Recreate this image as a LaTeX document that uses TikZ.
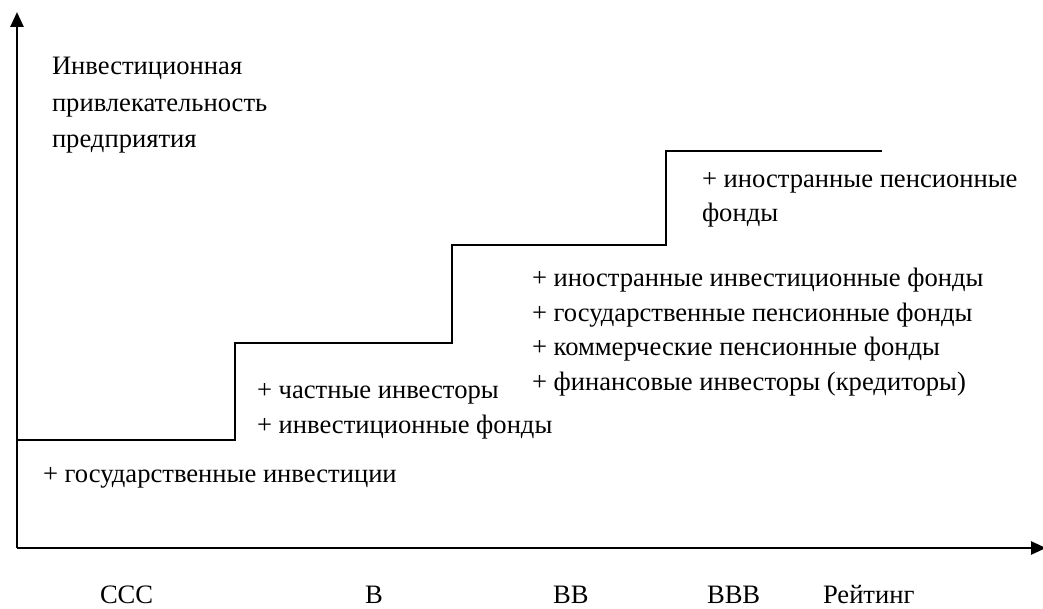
\documentclass[tikz,border=0pt]{standalone}
\usepackage{fontspec}
\setmainfont{Liberation Serif}
\usetikzlibrary{arrows.meta}
\tikzset{
  lbl/.style={anchor=base west, inner sep=0pt, outer sep=0pt, font=\fontsize{26.6}{32}\selectfont},
  axis/.style={line width=2.6pt, -{Triangle[width=13pt,length=15pt]}},
  stepline/.style={line width=2pt}
}
\begin{document}
\begin{tikzpicture}[x=1pt,y=-1pt]
\useasboundingbox (0,0) rectangle (1043,609);
% axes
\coordinate (O) at (17,548);
\coordinate (Ytop) at (17,12);
\coordinate (Xend) at (1046,548);
\draw[axis] (O) -- (Ytop);
\draw[axis] (O) -- (Xend);
% steps
\coordinate (s0) at (17,440);
\coordinate (s1) at (235,440);
\coordinate (s2) at (235,343);
\coordinate (s3) at (452,343);
\coordinate (s4) at (452,245);
\coordinate (s5) at (666,245);
\coordinate (s6) at (666,151);
\coordinate (s7) at (882,151);
\draw[stepline] (s0) -- (s1) -- (s2) -- (s3) -- (s4) -- (s5) -- (s6) -- (s7);
% y label
\node[lbl] (y1) at (52,75) {Инвестиционная};
\node[lbl] (y2) at (52,112) {привлекательность};
\node[lbl] (y3) at (52,148) {предприятия};
% texts
\node[lbl] (t1) at (43,482) {+ государственные инвестиции};
\node[lbl] (t2) at (257,398) {+ частные инвесторы};
\node[lbl] (t3) at (257,433) {+ инвестиционные фонды};
\node[lbl] (t4) at (532,287) {+ иностранные инвестиционные фонды};
\node[lbl] (t5) at (532,321) {+ государственные пенсионные фонды};
\node[lbl] (t6) at (532,355) {+ коммерческие пенсионные фонды};
\node[lbl] (t7) at (532,390) {+ финансовые инвесторы (кредиторы)};
\node[lbl] (t8) at (702,188) {+ иностранные пенсионные};
\node[lbl] (t9) at (702,222) {фонды};
% x labels
\node[lbl] (c1) at (100,603) {CCC};
\node[lbl] (c2) at (365,603) {B};
\node[lbl] (c3) at (553,603) {BB};
\node[lbl] (c4) at (707,603) {BBB};
\node[lbl] (c5) at (823,603) {Рейтинг};
\end{tikzpicture}
\end{document}
